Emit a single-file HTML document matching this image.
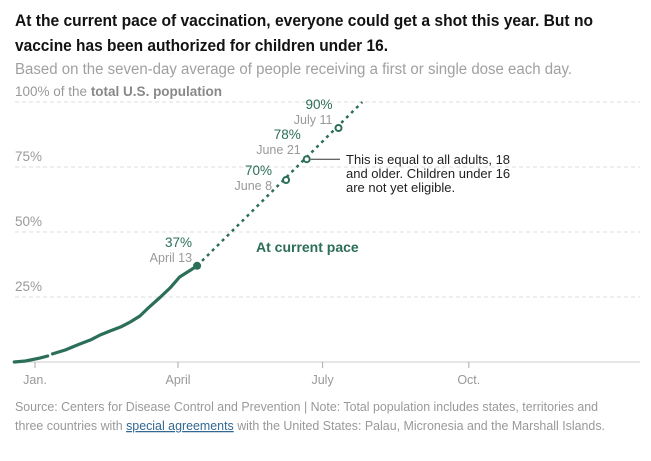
<!DOCTYPE html>
<html><head><meta charset="utf-8">
<style>
html,body{margin:0;padding:0;background:#fff;width:651px;height:461px;overflow:hidden}
svg{display:block}
text{font-family:"Liberation Sans Narrow","Liberation Sans",sans-serif}
</style></head>
<body>
<svg id="chart" width="651" height="461">
<text x="15" y="26" font-size="17" font-weight="bold" fill="#121212" textLength="578" lengthAdjust="spacingAndGlyphs">At the current pace of vaccination, everyone could get a shot this year. But no</text>
<text x="15" y="51" font-size="17" font-weight="bold" fill="#121212" textLength="373" lengthAdjust="spacingAndGlyphs">vaccine has been authorized for children under 16.</text>
<text x="15" y="74" font-size="15.5" fill="#a0a0a0" textLength="557" lengthAdjust="spacingAndGlyphs">Based on the seven-day average of people receiving a first or single dose each day.</text>
<g id="grid"></g>
<g id="xaxis"></g>
<g id="series"></g>
<g id="annot"></g>
<text x="15" y="411" font-size="12.5" fill="#999" font-family="Liberation Sans" textLength="583" lengthAdjust="spacingAndGlyphs">Source: Centers for Disease Control and Prevention | Note: Total population includes states, territories and</text>
<text x="15" y="430" font-size="12.5" fill="#999" font-family="Liberation Sans" textLength="590" lengthAdjust="spacingAndGlyphs">three countries with <tspan fill="#326891" text-decoration="underline">special agreements</tspan> with the United States: Palau, Micronesia and the Marshall Islands.</text>
</svg>
<script>
const ns="http://www.w3.org/2000/svg";
// days since Jan 1 2021
const actualDays=[-13,-6,3,8,11,19,28,35,41,47,54,60,66,72,79,85,91,98,102];
const actualPct=[0,0.4,1.5,2.3,3.1,4.6,6.9,8.5,10.4,11.9,13.5,15.4,17.7,21.2,25,28.5,32.7,35.4,37];
const projDays=[102,206];
const projPct=[37,100];
const markerDays=[158,171,191];
const markerPct=[70,78,90];
const markerLabels=["June 8","June 21","July 11"];
const yTicks=[25,50,75,100];
const monthDays=[0,90,181,273];
const monthLabels=["Jan.","April","July","Oct."];
// label placement offsets relative to marker (dx of right edge, dy of date baseline)
const labelDx=[-14,-6,-6];
const labelDy=[10,-5,-4];

const xS=d=>35+d*1.589;
const yS=p=>362-p*2.6;
const green="#2b6e5a";
function mk(tag,attrs,parent){const e=document.createElementNS(ns,tag);for(const k in attrs)e.setAttribute(k,attrs[k]);parent.appendChild(e);return e;}
const grid=document.getElementById('grid'),xa=document.getElementById('xaxis'),ser=document.getElementById('series'),an=document.getElementById('annot');

yTicks.forEach(t=>{
  const l=mk('line',{x1:15,x2:640,y1:yS(t),y2:yS(t),stroke:'#ddd','stroke-dasharray':'4,3'},grid);
  
  
  const tx=mk('text',{x:15,y:yS(t)-6,'font-size':13.5,fill:'#999','font-family':'Liberation Sans'},grid);
  tx.textContent=t+'%';
  if(t===100){tx.textContent='100% of the ';const b=mk('tspan',{'font-weight':'bold',fill:'#888'},tx);b.textContent='total U.S. population';}
  
  
});
const base=mk('line',{x1:15,x2:640,y1:yS(0),y2:yS(0),stroke:'#ccc'},xa);


monthDays.forEach((d,i)=>{
  const tk=mk('line',{x1:xS(d),x2:xS(d),y1:yS(0),y2:yS(0)+6,stroke:'#aaa'},xa);
  
  
  const tx=mk('text',{x:xS(d),y:yS(0)+22,'font-size':12.5,fill:'#999','text-anchor':'middle','font-family':'Liberation Sans'},xa);
  tx.textContent=monthLabels[i];
  
  
});
function pathFrom(a,b){return a.map((d,i)=>(i?'L':'M')+xS(d).toFixed(1)+','+yS(b[i]).toFixed(1)).join('');}
const p1=mk('path',{d:pathFrom(actualDays.slice(0,4),actualPct.slice(0,4)),fill:'none',stroke:green,'stroke-width':3.2,'stroke-linecap':'round'},ser);


const p2=mk('path',{d:pathFrom(actualDays.slice(4),actualPct.slice(4)),fill:'none',stroke:green,'stroke-width':3.2,'stroke-linecap':'round','stroke-linejoin':'round'},ser);


const pr=mk('path',{d:pathFrom(projDays,projPct),fill:'none',stroke:green,'stroke-width':2.5,'stroke-dasharray':'3,4'},ser);


const last=actualDays.length-1;
const dot=mk('circle',{cx:xS(actualDays[last]),cy:yS(actualPct[last]),r:4,fill:green},ser);


function lab(x,y,pct,date,name){
  const a=mk('text',{x:x,y:y-15,'font-size':13.5,fill:green,'text-anchor':'end','font-family':'Liberation Sans'},an);a.textContent=pct+'%';
  
  
  const b=mk('text',{x:x,y:y,'font-size':12.5,fill:'#999','text-anchor':'end','font-family':'Liberation Sans'},an);b.textContent=date;
  
  
}
lab(xS(actualDays[last])-5,yS(actualPct[last])-4,actualPct[last],'April 13','april-13');
markerDays.forEach((d,i)=>{
  const c=mk('circle',{cx:xS(d),cy:yS(markerPct[i]),r:3,fill:'#fff',stroke:green,'stroke-width':2},ser);
  
  
  lab(xS(d)+labelDx[i],yS(markerPct[i])+labelDy[i],markerPct[i],markerLabels[i],'milestone-'+i);
});
const ln=mk('line',{x1:xS(markerDays[1])+4,x2:340,y1:yS(markerPct[1]),y2:yS(markerPct[1]),stroke:'#333'},an);


["This is equal to all adults, 18","and older. Children under 16","are not yet eligible."].forEach((t,i)=>{
  const tx=mk('text',{x:346,y:yS(markerPct[1])+5+i*14,'font-size':13,fill:'#222','font-family':'Liberation Sans'},an);tx.textContent=t;
  
  
});
const cp=mk('text',{x:256,y:252,'font-size':14,'font-weight':'bold',fill:green,'font-family':'Liberation Sans'},an);cp.textContent='At current pace';


</script>
</body></html>
